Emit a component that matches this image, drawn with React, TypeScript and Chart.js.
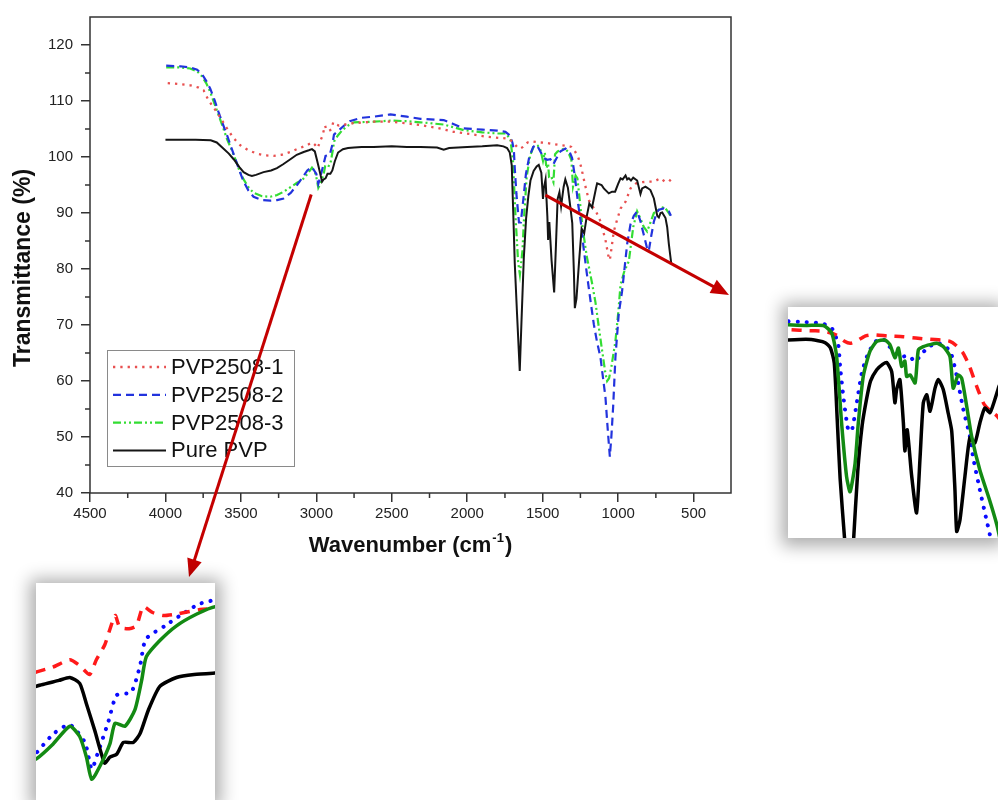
import React, { useEffect, useRef } from "react";
import { Chart, registerables } from "chart.js";
Chart.register(...registerables);

const FONT = "Arial, 'Liberation Sans', Helvetica, sans-serif";

const seriesNames = ["PVP2508-1", "PVP2508-2", "PVP2508-3", "Pure PVP"];

// [wavenumber cm-1, transmittance %]
const pvp2508_1: [number, number][] = [
  [3985, 113.2], [3900, 113.0], [3836, 112.8], [3780, 112.4], [3747, 111.9], [3714, 110.1], [3680, 108.8],
  [3659, 108.0], [3620, 106.3], [3592, 105.1], [3550, 103.4], [3504, 102.1], [3450, 101.2], [3393, 100.6],
  [3340, 100.3], [3283, 100.2], [3230, 100.4], [3172, 100.9], [3120, 101.5], [3062, 102.1], [3029, 102.6],
  [3010, 102.2], [2991, 101.6], [2978, 102.6], [2962, 103.6], [2942, 105.6], [2933, 104.8], [2915, 104.7],
  [2901, 104.9], [2888, 106.2], [2870, 105.8], [2850, 105.6], [2824, 105.7], [2779, 106.0], [2730, 106.1],
  [2620, 106.3], [2509, 106.3], [2400, 106.0], [2310, 105.7], [2200, 105.2], [2090, 104.5], [1980, 104.1],
  [1868, 103.6], [1780, 103.4], [1736, 103.3], [1700, 102.8], [1670, 101.8], [1651, 101.5], [1630, 101.8],
  [1600, 102.6], [1572, 102.8], [1520, 102.6], [1470, 102.5], [1427, 102.3], [1378, 102.1], [1338, 102.0],
  [1310, 101.8], [1290, 101.2], [1265, 100.0], [1245, 98.2], [1219, 95.0], [1194, 92.3], [1173, 91.3],
  [1150, 90.5], [1117, 88.5], [1084, 85.2], [1066, 82.5], [1055, 81.6], [1045, 83.5], [1029, 86.7],
  [1010, 88.5], [984, 90.8], [951, 92.0], [918, 94.4], [880, 95.3], [840, 95.5], [800, 95.6], [763, 95.6],
  [719, 96.2], [690, 95.6], [664, 95.6], [650, 96.0],
];

const pvp2508_2: [number, number][] = [
  [3995, 116.3], [3900, 116.2], [3836, 116.0], [3790, 115.6], [3758, 114.8], [3730, 113.6], [3703, 112.2],
  [3675, 110.2], [3648, 108.0], [3620, 105.9], [3592, 103.9], [3565, 101.8], [3537, 99.7], [3510, 97.6],
  [3482, 95.6], [3450, 94.0], [3416, 92.9], [3360, 92.3], [3305, 92.2], [3260, 92.3], [3217, 92.6],
  [3170, 93.6], [3128, 95.0], [3093, 96.3], [3060, 97.6], [3029, 98.2], [3000, 97.0], [2987, 95.2],
  [2975, 96.3], [2955, 98.4], [2939, 100.2], [2911, 100.4], [2894, 102.2], [2883, 104.0], [2846, 104.9],
  [2808, 105.8], [2779, 106.4], [2700, 107.0], [2620, 107.2], [2509, 107.6], [2400, 107.2], [2310, 106.8],
  [2156, 106.6], [2100, 106.0], [2023, 105.1], [1900, 104.9], [1800, 104.7], [1747, 104.5], [1714, 103.8],
  [1700, 102.5], [1691, 101.2], [1685, 98.0], [1674, 93.4], [1657, 88.3], [1645, 88.3], [1628, 92.5],
  [1611, 97.0], [1589, 100.0], [1563, 101.8], [1540, 102.2], [1526, 101.5], [1492, 99.8], [1471, 99.5],
  [1449, 99.6], [1429, 98.7], [1412, 99.6], [1382, 101.0], [1349, 101.5], [1320, 100.8], [1305, 99.8],
  [1287, 96.6], [1265, 91.6], [1242, 87.4], [1230, 84.0], [1208, 79.3], [1185, 74.7], [1161, 70.1],
  [1140, 67.0], [1117, 64.2], [1100, 60.5], [1084, 57.1], [1068, 51.0], [1055, 46.5], [1045, 50.0],
  [1033, 55.4], [1018, 64.2], [996, 72.0], [974, 76.0], [962, 79.0], [940, 84.5], [918, 88.0], [896, 89.5],
  [874, 90.3], [852, 88.5], [830, 86.1], [808, 83.7], [797, 83.2], [780, 86.0], [763, 88.5], [745, 90.0],
  [730, 90.6], [697, 90.8], [680, 90.5], [664, 90.3], [650, 89.5],
];

const pvp2508_3: [number, number][] = [
  [3995, 116.0], [3900, 116.0], [3836, 115.8], [3790, 115.3], [3758, 114.4], [3730, 113.2], [3703, 111.6],
  [3675, 109.5], [3648, 107.5], [3620, 105.4], [3592, 103.2], [3565, 101.5], [3537, 99.6], [3510, 97.6],
  [3482, 96.0], [3450, 94.6], [3416, 93.6], [3360, 93.0], [3305, 92.9], [3260, 93.2], [3217, 93.8],
  [3172, 94.6], [3128, 95.4], [3093, 95.9], [3061, 96.9], [3029, 98.1], [3010, 97.4], [2997, 96.0],
  [2987, 94.5], [2971, 95.4], [2952, 96.9], [2942, 98.3], [2923, 98.1], [2904, 99.2], [2891, 101.2],
  [2882, 102.8], [2856, 103.9], [2824, 104.9], [2785, 105.7], [2750, 106.2], [2620, 106.3], [2509, 106.5],
  [2400, 106.4], [2310, 106.2], [2156, 105.8], [2023, 104.8], [1900, 104.4], [1800, 104.2], [1742, 104.2],
  [1714, 103.1], [1697, 99.5], [1680, 89.4], [1663, 81.3], [1651, 79.0], [1634, 83.3], [1623, 89.4],
  [1606, 96.5], [1583, 100.3], [1560, 101.8], [1532, 102.0], [1515, 101.3], [1498, 99.3], [1486, 100.8],
  [1475, 98.0], [1464, 98.8], [1458, 96.5], [1446, 96.7], [1429, 95.5], [1418, 100.5], [1401, 101.0],
  [1378, 101.3], [1355, 101.5], [1333, 101.0], [1310, 99.5], [1299, 94.7], [1282, 96.7], [1270, 96.2],
  [1253, 92.0], [1236, 87.4], [1208, 82.3], [1173, 77.5], [1150, 74.0], [1130, 70.0], [1106, 65.4],
  [1085, 61.5], [1073, 60.0], [1060, 60.5], [1045, 62.5], [1018, 67.1], [1000, 72.0], [984, 77.2],
  [960, 79.5], [929, 81.4], [900, 87.5], [874, 90.3], [852, 89.0], [830, 87.5], [808, 86.7], [790, 88.0],
  [763, 90.0], [730, 90.6], [697, 91.1], [680, 90.6], [664, 90.0], [650, 89.3],
];

const purePvp: [number, number][] = [
  [4000, 103.1], [3900, 103.1], [3800, 103.1], [3700, 103.0], [3660, 102.6], [3620, 101.6], [3580, 100.6],
  [3548, 99.6], [3510, 98.2], [3482, 97.3], [3450, 96.8], [3427, 96.6], [3400, 96.8], [3350, 97.3],
  [3300, 97.6], [3261, 98.0], [3220, 98.7], [3172, 99.6], [3130, 100.4], [3084, 100.9], [3050, 101.2],
  [3029, 101.4], [3010, 101.0], [2997, 99.6], [2981, 97.8], [2962, 95.6], [2952, 96.0], [2939, 96.2],
  [2926, 97.0], [2907, 97.0], [2894, 97.6], [2878, 99.2], [2856, 100.8], [2824, 101.4], [2790, 101.6],
  [2750, 101.7], [2700, 101.8], [2620, 101.8], [2500, 101.9], [2400, 101.8], [2310, 101.8], [2200, 101.7],
  [2156, 101.3], [2120, 101.6], [2000, 101.8], [1900, 101.9], [1802, 102.1], [1760, 101.9], [1736, 101.6],
  [1718, 100.8], [1705, 98.5], [1695, 90.0], [1685, 81.0], [1670, 72.0], [1652, 61.8], [1640, 71.0],
  [1625, 82.0], [1610, 89.0], [1595, 93.0], [1581, 95.8], [1560, 97.5], [1540, 98.3], [1526, 98.6],
  [1509, 97.2], [1498, 92.5], [1492, 94.5], [1481, 96.0], [1469, 89.4], [1464, 85.2], [1456, 88.4],
  [1441, 81.5], [1424, 75.8], [1412, 84.3], [1401, 92.5], [1389, 93.7], [1378, 91.2], [1361, 94.7],
  [1350, 96.0], [1333, 94.5], [1316, 90.9], [1304, 88.2], [1293, 79.3], [1287, 73.0], [1276, 74.7],
  [1259, 81.3], [1242, 87.2], [1225, 86.4], [1208, 89.4], [1191, 91.7], [1173, 91.0], [1146, 94.5],
  [1139, 95.3], [1110, 95.0], [1095, 94.4], [1062, 93.5], [1040, 93.8], [1020, 93.8], [1000, 95.2],
  [984, 96.2], [970, 96.0], [951, 96.7], [940, 96.0], [929, 96.2], [915, 95.8], [900, 96.3], [874, 95.8],
  [852, 93.4], [841, 94.4], [819, 94.7], [807, 94.5], [786, 94.1], [763, 92.6], [750, 90.8], [741, 89.5],
  [730, 89.2], [719, 90.0], [708, 90.1], [697, 89.6], [686, 89.1], [675, 87.5], [664, 84.5], [655, 82.5],
  [648, 81.0],
];

const seriesData = [pvp2508_1, pvp2508_2, pvp2508_3, purePvp];

const xTickValues = [4500, 4000, 3500, 3000, 2500, 2000, 1500, 1000, 500];
const yTickValues = [40, 50, 60, 70, 80, 90, 100, 110, 120];
const xMinorValues = [4250, 3750, 3250, 2750, 2250, 1750, 1250, 750];
const yMinorValues = [45, 55, 65, 75, 85, 95, 105, 115];

// arrow anchors on the spectra (wavenumber, transmittance)
const arrowFromWn = [1482, 3034];
const arrowFromT = [93.2, 93.3];

const mainStyles = [
  { color: "#e85050", width: 2.3, dash: [2.3, 5] },
  { color: "#2233dd", width: 2.2, dash: [8, 5] },
  { color: "#33dd33", width: 2.2, dash: [8, 3, 2, 3, 2, 3] },
  { color: "#151515", width: 2, dash: [] as number[] },
];

const insetStyles = [
  { color: "#ff1a1a", width: 3.5, dash: [10, 8], cap: "butt" },
  { color: "#0a0aff", width: 4, dash: [0.1, 9], cap: "round" },
  { color: "#138a13", width: 3.5, dash: [] as number[], cap: "butt" },
  { color: "#000000", width: 3.5, dash: [] as number[], cap: "butt" },
];

const insetRight = { left: 788, top: 307, width: 210, height: 231, wnHigh: 1863, wnLow: 1146, tLow: 72, tHigh: 107 };
const insetLeft = { left: 36, top: 583, width: 179, height: 217, wnHigh: 3094, wnLow: 2750, tLow: 93.1, tHigh: 107.8 };

const toPoints = (p: [number, number][]) => p.map(([x, y]) => ({ x, y }));

function drawArrow(ctx: CanvasRenderingContext2D, x0: number, y0: number, x1: number, y1: number, headLen: number, headHalf: number) {
  const dx = x1 - x0, dy = y1 - y0;
  const len = Math.hypot(dx, dy);
  const ux = dx / len, uy = dy / len;
  const bx = x1 - ux * headLen, by = y1 - uy * headLen;
  ctx.strokeStyle = "#c40000";
  ctx.fillStyle = "#c40000";
  ctx.lineWidth = 3;
  ctx.setLineDash([]);
  ctx.beginPath();
  ctx.moveTo(x0, y0);
  ctx.lineTo(bx + ux * 2, by + uy * 2);
  ctx.stroke();
  ctx.beginPath();
  ctx.moveTo(x1, y1);
  ctx.lineTo(bx - uy * headHalf, by + ux * headHalf);
  ctx.lineTo(bx + uy * headHalf, by - ux * headHalf);
  ctx.closePath();
  ctx.fill();
}

const decorPlugin = {
  id: "decor",
  afterDraw(chart: any) {
    const { ctx, chartArea: a, scales } = chart;
    const xs = scales.x, ys = scales.y;
    ctx.save();
    // frame
    ctx.strokeStyle = "#333";
    ctx.lineWidth = 1.5;
    ctx.setLineDash([]);
    ctx.strokeRect(a.left, a.top, a.right - a.left, a.bottom - a.top);
    // minor ticks
    ctx.beginPath();
    xMinorValues.forEach((v) => {
      const px = xs.getPixelForValue(v);
      ctx.moveTo(px, a.bottom);
      ctx.lineTo(px, a.bottom + 5);
    });
    yMinorValues.forEach((v) => {
      const py = ys.getPixelForValue(v);
      ctx.moveTo(a.left, py);
      ctx.lineTo(a.left - 5, py);
    });
    ctx.stroke();

    // y title
    ctx.fillStyle = "#111";
    ctx.save();
    ctx.translate(23.5, 268);
    ctx.rotate(-Math.PI / 2);
    ctx.font = `bold 23px ${FONT}`;
    ctx.textAlign = "center";
    ctx.textBaseline = "middle";
    ctx.fillText("Transmittance (%)", 0, 0);
    ctx.restore();

    // x title with superscript
    const p1 = "Wavenumber (cm", sup = "-1", p2 = ")";
    ctx.textBaseline = "alphabetic";
    ctx.textAlign = "left";
    ctx.font = `bold 22px ${FONT}`;
    const w1 = ctx.measureText(p1).width;
    const w2 = ctx.measureText(p2).width;
    ctx.font = `bold 13px ${FONT}`;
    const ws = ctx.measureText(sup).width;
    const cx = (a.left + a.right) / 2;
    let sx = cx - (w1 + ws + w2 + 2) / 2;
    const base = 552;
    ctx.font = `bold 22px ${FONT}`;
    ctx.fillText(p1, sx, base);
    sx += w1 + 1;
    ctx.font = `bold 13px ${FONT}`;
    ctx.fillText(sup, sx, base - 10);
    sx += ws + 1;
    ctx.font = `bold 22px ${FONT}`;
    ctx.fillText(p2, sx, base);

    // legend
    ctx.fillStyle = "#fff";
    ctx.fillRect(107, 350, 187, 116);
    ctx.strokeStyle = "#8a8a8a";
    ctx.lineWidth = 1;
    ctx.strokeRect(107.5, 350.5, 187, 116);
    ctx.font = `22px ${FONT}`;
    ctx.textBaseline = "middle";
    chart.data.datasets.forEach((ds: any, i: number) => {
      const yy = 367 + i * 27.8;
      ctx.strokeStyle = ds.borderColor;
      ctx.lineWidth = ds.borderWidth;
      ctx.setLineDash(ds.borderDash || []);
      ctx.beginPath();
      ctx.moveTo(113, yy);
      ctx.lineTo(166, yy);
      ctx.stroke();
      ctx.setLineDash([]);
      ctx.fillStyle = "#111";
      ctx.fillText(ds.label, 171, yy + 1);
    });

    // arrows toward the zoom insets
    const a1x = xs.getPixelForValue(arrowFromWn[0]);
    const a1y = ys.getPixelForValue(arrowFromT[0]);
    drawArrow(ctx, a1x, a1y, insetRight.left - 59, insetRight.top - 12, 18, 7.5);
    const a2x = xs.getPixelForValue(arrowFromWn[1]);
    const a2y = ys.getPixelForValue(arrowFromT[1]);
    drawArrow(ctx, a2x, a2y, insetLeft.left + 153, insetLeft.top - 6, 18, 7.5);
    ctx.restore();
  },
};

function MainChart() {
  const ref = useRef<HTMLCanvasElement>(null);
  useEffect(() => {
    if (!ref.current) return;
    const chart = new Chart(ref.current, {
      type: "line",
      data: {
        datasets: seriesData.map((d, i) => ({
          label: seriesNames[i],
          data: toPoints(d),
          borderColor: mainStyles[i].color,
          borderWidth: mainStyles[i].width,
          borderDash: mainStyles[i].dash,
          pointRadius: 0,
          fill: false,
          tension: 0,
          order: i === 3 ? 0 : i + 1,
        })),
      },
      options: {
        animation: false,
        responsive: false,
        events: [],
        layout: { padding: { top: 14, right: 267, left: 0, bottom: 0 } },
        plugins: { legend: { display: false }, tooltip: { enabled: false } },
        scales: {
          x: {
            type: "linear",
            reverse: true,
            min: 252,
            max: 4500,
            afterBuildTicks: (s: any) => {
              s.ticks = xTickValues.map((v) => ({ value: v }));
            },
            afterFit: (s: any) => {
              s.height = 307;
            },
            grid: { drawOnChartArea: false, drawTicks: true, tickLength: 9, color: "#333", lineWidth: 1.5 },
            border: { display: false },
            ticks: {
              font: { family: FONT, size: 15 },
              color: "#222",
              padding: 3,
              maxRotation: 0,
              autoSkip: false,
              callback: (v: any) => String(v),
            },
          },
          y: {
            type: "linear",
            min: 40,
            max: 125,
            afterBuildTicks: (s: any) => {
              s.ticks = yTickValues.map((v) => ({ value: v }));
            },
            afterFit: (s: any) => {
              s.width = 90;
            },
            grid: { drawOnChartArea: false, drawTicks: true, tickLength: 9, color: "#333", lineWidth: 1.5 },
            border: { display: false },
            ticks: {
              font: { family: FONT, size: 15 },
              color: "#222",
              padding: 8,
              autoSkip: false,
              callback: (v: any) => String(v),
            },
          },
        },
      },
      plugins: [decorPlugin],
    } as any);
    return () => chart.destroy();
  }, []);
  return <canvas ref={ref} width={998} height={800} style={{ position: "absolute", left: 0, top: 0 }} />;
}

function Inset({ box }: { box: typeof insetRight }) {
  const ref = useRef<HTMLCanvasElement>(null);
  useEffect(() => {
    if (!ref.current) return;
    const chart = new Chart(ref.current, {
      type: "line",
      data: {
        datasets: seriesData.map((d, i) => ({
          label: seriesNames[i],
          data: toPoints(d),
          borderColor: insetStyles[i].color,
          borderWidth: insetStyles[i].width,
          borderDash: insetStyles[i].dash,
          borderCapStyle: insetStyles[i].cap,
          borderJoinStyle: "round",
          pointRadius: 0,
          fill: false,
          tension: 0.2,
          order: i === 3 ? 1 : i === 2 ? 0 : i + 2,
        })),
      },
      options: {
        animation: false,
        responsive: false,
        events: [],
        layout: { padding: 0 },
        plugins: { legend: { display: false }, tooltip: { enabled: false } },
        scales: {
          x: { type: "linear", reverse: true, min: box.wnLow, max: box.wnHigh, display: false },
          y: { type: "linear", min: box.tLow, max: box.tHigh, display: false },
        },
      },
    } as any);
    return () => chart.destroy();
  }, [box]);
  return (
    <div
      style={{
        position: "absolute",
        left: box.left,
        top: box.top,
        width: box.width,
        height: box.height,
        background: "#fff",
        boxShadow: "0 2px 16px 6px rgba(0,0,0,0.32)",
      }}
    >
      <canvas ref={ref} width={box.width} height={box.height} style={{ display: "block" }} />
    </div>
  );
}

export default function App() {
  return (
    <div
      style={{
        position: "absolute",
        left: 0,
        top: 0,
        width: 998,
        height: 800,
        overflow: "hidden",
        background: "#fff",
      }}
    >
      <MainChart />
      <Inset box={insetRight} />
      <Inset box={insetLeft} />
    </div>
  );
}
